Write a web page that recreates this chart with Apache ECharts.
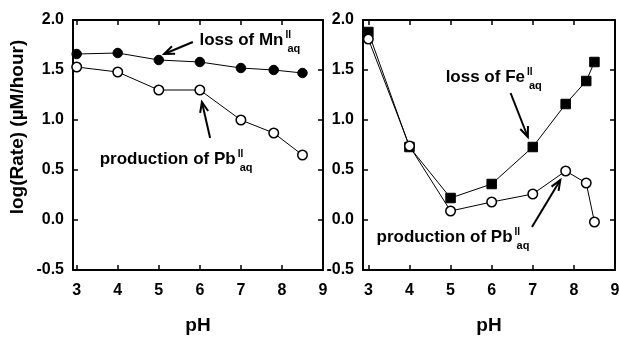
<!DOCTYPE html>
<html><head><meta charset="utf-8">
<script src="https://cdn.jsdelivr.net/npm/echarts@6/dist/echarts.min.js"></script>
<style>html,body{margin:0;padding:0;background:#fff}#c{width:619px;height:337px}</style>
</head><body><div id="c"></div>
<script>
// ---- data ----
const xTickValues = [3, 4, 5, 6, 7, 8, 9];
const mnPH     = [3, 4, 5, 6, 7, 7.8, 8.5];
const mnLoss   = [1.66, 1.67, 1.60, 1.58, 1.52, 1.50, 1.47];
const pbLeftPH = [3, 4, 5, 6, 7, 7.8, 8.5];
const pbLeft   = [1.53, 1.48, 1.30, 1.30, 1.00, 0.87, 0.65];
const fePH     = [3, 4, 5, 6, 7, 7.8, 8.3, 8.5];
const feLoss   = [1.88, 0.73, 0.22, 0.36, 0.73, 1.16, 1.39, 1.58];
const pbRightPH = [3, 4, 5, 6, 7, 7.8, 8.3, 8.5];
const pbRight  = [1.81, 0.74, 0.09, 0.18, 0.26, 0.49, 0.37, -0.02];

// annotations (data coordinates)
const annotations = [
  {grid:0, main:'loss of Mn', sup:'II', sub:'aq', text:[5.99, 1.80], tail:[5.83, 1.78], head:[5.13, 1.66]},
  {grid:0, main:'production of Pb', sup:'II', sub:'aq', text:[3.56, 0.61], tail:[6.25, 0.82], head:[6.05, 1.18]},
  {grid:1, main:'loss of Fe', sup:'II', sub:'aq', text:[4.88, 1.43], tail:[6.46, 1.27], head:[6.88, 0.83]},
  {grid:1, main:'production of Pb', sup:'II', sub:'aq', text:[3.20, -0.17], tail:[6.98, -0.07], head:[7.67, 0.40]}
];

const FONT = '"Liberation Sans", Arial, sans-serif';
const chart = echarts.init(document.getElementById('c'), null, {renderer: 'canvas'});

function zip(a, b) { return a.map((v, i) => [v, b[i]]); }

const lineAx = {show: true, onZero: false, lineStyle: {color: '#000', width: 2}};
const tickAx = (cv) => ({show: true, inside: true, length: 5, lineStyle: {color: '#000', width: 1.5}, customValues: cv});

function xAxes(grid, min) {
  const base = {type: 'value', gridIndex: grid, min: min, max: 9, splitLine: {show: false}, axisLine: lineAx};
  return [
    Object.assign({}, base, {
      position: 'bottom',
      axisTick: tickAx(xTickValues),
      axisLabel: {show: true, customValues: xTickValues, margin: 13, color: '#000', fontFamily: FONT, fontWeight: 'bold', fontSize: 16},
      name: 'pH', nameLocation: 'middle', nameGap: 46,
      nameTextStyle: {color: '#000', fontFamily: FONT, fontWeight: 'bold', fontSize: 19}
    }),
    Object.assign({}, base, {position: 'top', axisTick: tickAx(xTickValues), axisLabel: {show: false}})
  ];
}
function yAxes(grid) {
  const base = {type: 'value', gridIndex: grid, min: -0.5, max: 2.0, interval: 0.5, splitLine: {show: false}, axisLine: lineAx,
    axisTick: {show: true, inside: true, length: 5, lineStyle: {color: '#000', width: 1.5}}};
  return [
    Object.assign({}, base, {position: 'left',
      axisLabel: {show: true, margin: 9, color: '#000', fontFamily: FONT, fontWeight: 'bold', fontSize: 16, formatter: v => v.toFixed(1)}}),
    Object.assign({}, base, {position: 'right', axisLabel: {show: false}})
  ];
}

const filled = {color: '#000', borderColor: '#000', borderWidth: 1};
const open = {color: '#fff', borderColor: '#000', borderWidth: 1.5};
function ser(x, y, xi, yi, symbol, item) {
  return {type: 'line', xAxisIndex: xi, yAxisIndex: yi, data: zip(x, y), symbol: symbol, symbolSize: 9.5,
    showSymbol: true, lineStyle: {color: '#000', width: 1}, itemStyle: item, emphasis: {disabled: true}, animation: false, z: 3};
}

chart.setOption({
  animation: false,
  backgroundColor: '#fff',
  grid: [
    {left: 73, top: 20, width: 250, height: 250, show: false, containLabel: false, outerBoundsMode: 'none'},
    {left: 363, top: 20, width: 252, height: 250, show: false, containLabel: false, outerBoundsMode: 'none'}
  ],
  xAxis: [...xAxes(0, 2.91), ...xAxes(1, 2.87)],
  yAxis: [...yAxes(0), ...yAxes(1)],
  series: [
    ser(mnPH, mnLoss, 0, 0, 'circle', filled),
    ser(pbLeftPH, pbLeft, 0, 0, 'circle', open),
    ser(fePH, feLoss, 2, 2, 'rect', filled),
    ser(pbRightPH, pbRight, 2, 2, 'circle', open)
  ]
});

// ---- annotations ----
const ctx = document.createElement('canvas').getContext('2d');
function measure(t, font) { ctx.font = font; return ctx.measureText(t).width; }
const mainFont = 'bold 17px "Liberation Sans"';
const supFont = 'bold 10px "Liberation Sans"';
const subFont = 'bold 11px "Liberation Sans"';

function txt(t, x, y, font, align) {
  return {type: 'text', z: 10, style: {text: t, x: x, y: y, font: font, fill: '#000',
    align: align || 'left', verticalAlign: 'middle', textAlign: align || 'left', textVerticalAlign: 'middle'}};
}

const g = [];
annotations.forEach(a => {
  const gi = a.grid === 0 ? 0 : 1;
  const p = chart.convertToPixel({gridIndex: gi}, a.text);
  const tp = chart.convertToPixel({gridIndex: gi}, a.tail);
  const hp = chart.convertToPixel({gridIndex: gi}, a.head);
  const w = measure(a.main, mainFont);
  g.push(txt(a.main, p[0], p[1], mainFont));
  g.push(txt(a.sup, p[0] + w + 2, p[1] - 5, supFont));
  g.push(txt(a.sub, p[0] + w + 4, p[1] + 9, subFont));
  // arrow
  g.push({type: 'line', z: 10, shape: {x1: tp[0], y1: tp[1], x2: hp[0], y2: hp[1]}, style: {stroke: '#000', lineWidth: 2}});
  const dx = tp[0] - hp[0], dy = tp[1] - hp[1], L = Math.hypot(dx, dy);
  const ux = dx / L, uy = dy / L, ang = 22 * Math.PI / 180, len = 11;
  const w1 = [hp[0] + len * (ux * Math.cos(ang) - uy * Math.sin(ang)), hp[1] + len * (ux * Math.sin(ang) + uy * Math.cos(ang))];
  const w2 = [hp[0] + len * (ux * Math.cos(-ang) - uy * Math.sin(-ang)), hp[1] + len * (ux * Math.sin(-ang) + uy * Math.cos(-ang))];
  g.push({type: 'polyline', z: 10, shape: {points: [w1, hp, w2]}, style: {stroke: '#000', lineWidth: 2, fill: null}});
});
// y-axis title
g.push({type: 'text', z: 10, x: 18, y: 127, rotation: Math.PI / 2,
  style: {text: 'log(Rate) (µM/hour)', x: 0, y: 0, font: 'bold 19px "Liberation Sans"', fill: '#000',
    align: 'center', verticalAlign: 'middle', textAlign: 'center', textVerticalAlign: 'middle'}});

chart.setOption({graphic: {elements: g}});
</script>
</body></html>
